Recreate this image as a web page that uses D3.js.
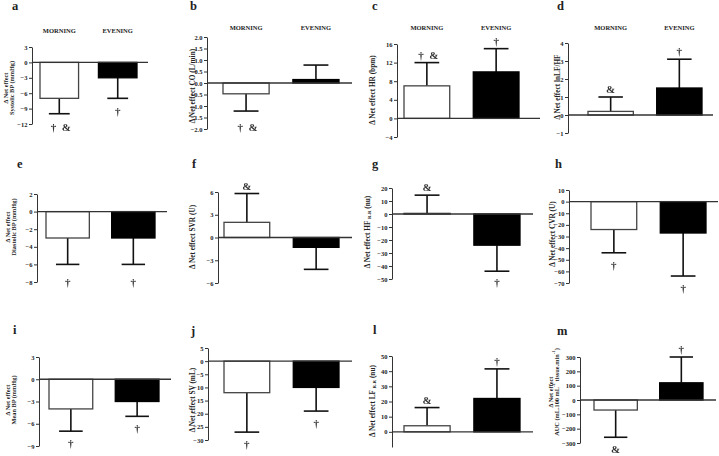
<!DOCTYPE html>
<html><head><meta charset="utf-8">
<script src="https://cdn.jsdelivr.net/npm/d3@7"></script>
<style>
html,body{margin:0;padding:0;background:#fff;}
svg{display:block;}
text{font-family:"Liberation Serif","Times New Roman",serif;font-weight:bold;fill:#222;}
</style></head><body>
<script>
// ---------- DATA ----------
const panelLetters = ["a","b","c","d","e","f","g","h","i","j","l","m"];
const groupNames = ["MORNING","EVENING"];
const morningMean = [-7, -0.47, 7, 0.2, -3, 2, 0.5, -24, -4, -12, 4, -70];
const morningSD   = [3, 0.75, 5, 0.8, 3, 3.8, 14, 20, 3, 15, 12, 190];
const eveningMean = [-3, 0.15, 10, 1.5, -3, -1.3, -24, -27, -3, -10, 22, 120];
const eveningSD   = [4, 0.63, 5, 1.6, 3, 2.9, 20, 37, 2, 9, 19.5, 180];
const yDomains = [[-12,3],[-2,2],[-4,16],[-1,4],[-8,2],[-6,6],[-50,20],[-70,10],[-9,3],[-30,5],[-10,50],[-300,300]];
const yTicks = [
  [3,0,-3,-6,-9,-12],
  [2,1.5,1,0.5,0,-0.5,-1,-1.5,-2],
  [16,12,8,4,0,-4],
  [4,3,2,1,0,-1],
  [2,0,-2,-4,-6,-8],
  [6,3,0,-3,-6],
  [20,10,0,-10,-20,-30,-40,-50],
  [10,0,-10,-20,-30,-40,-50,-60,-70],
  [3,0,-3,-6,-9],
  [5,0,-5,-10,-15,-20,-25,-30],
  [50,40,30,20,10,0],
  [300,200,100,0,-100,-200,-300]
];
const tickFormats = ["d",".1f","d","d","d","d","d","d","d","d","d","d"];
const yLabels = [
  [["Δ Net effect"],["Systolic BP (mmHg)"]],
  [["Δ Net effect CO (L/min)"]],
  [["Δ Net effect HR (bpm)"]],
  [["Δ Net effect lnLF/HF"]],
  [["Δ Net effect"],["Diastolic BP (mmHg)"]],
  [["Δ Net effect SVR (U)"]],
  [["Δ Net effect HF ",["R-R","sub"]," (nu)"]],
  [["Δ Net effect CVR (U)"]],
  [["Δ Net effect"],["Mean BP (mmHg)"]],
  [["Δ Net effect SV (mL)"]],
  [["Δ Net effect LF ",["R-R","sub"]," (nu)"]],
  [["Δ Net effect"],["AUC (mL.100 mL",["-1","sup"]," tissue.min",["-1","sup"],")"]]
];
const morningMarks = ["† &","† &","† &","&","†","&","&","†","†","†","&","&"];
const eveningMarks = ["†","","†","†","†","","†","†","†","†","†","†"];
const showHeader = [true,true,true,true,false,false,false,false,false,false,false,false];

// ---------- LAYOUT ----------
const layout = [
  {ax:32, top:47, bot:124, end:148, bars:[40,137], lx:[5,11], ly:88, let:[12,10], gapB:13},
  {ax:207,top:37, bot:129, end:352, bars:[223,339], lx:[192], ly:86, let:[190,10], gapB:16},
  {ax:397,top:44, bot:137, end:540, bars:[404,519], lx:[372], ly:90, let:[372,10], gapB:12},
  {ax:568,top:43, bot:133, end:713, bars:[588,702], lx:[557], ly:87, let:[557,10], gapB:12},
  {ax:37, top:194,bot:282, end:167, bars:[46,155], lx:[7,13], ly:227, let:[17,168], gapB:18},
  {ax:218,top:192,bot:283, end:352, bars:[224,339], lx:[192], ly:237, let:[192,168], gapB:12},
  {ax:392,top:188,bot:279, end:533, bars:[404,520], lx:[367], ly:232, let:[372,168], gapB:11},
  {ax:569,top:190,bot:283, end:718, bars:[591,706], lx:[552], ly:234, let:[555,168], gapB:12},
  {ax:39, top:357,bot:446, end:171, bars:[49,159], lx:[7,13], ly:400, let:[13,334], gapB:12},
  {ax:208,top:348,bot:440, end:352, bars:[224,339], lx:[192], ly:400, let:[191,335], gapB:12},
  {ax:392,top:356,bot:447, end:533, bars:[404,520], lx:[372], ly:401, let:[373,334], gapB:12},
  {ax:580,top:357,bot:443, end:716, bars:[594,703], lx:[550,556], ly:392, let:[557,335], gapB:12}
];

const W = 719, H = 456;
const svg = d3.select("body").append("svg").attr("width", W).attr("height", H);
const defs = svg.append("defs");
const flt = defs.append("filter").attr("id","gray").attr("x","-20%").attr("y","-20%").attr("width","140%").attr("height","140%");
flt.append("feOffset").attr("dx",0).attr("dy",0);

panelLetters.forEach((letter, i) => {
  const L = layout[i];
  const g = svg.append("g");
  const y = d3.scaleLinear().domain(yDomains[i]).range([L.bot, L.top]);
  const x = d3.scaleBand().domain(groupNames).range(L.bars).paddingInner(0.34).paddingOuter(0);
  const bw = x.bandwidth();

  g.append("text").attr("x", L.let[0]).attr("y", L.let[1])
    .style("font-size","12.5px").text(letter);

  if (showHeader[i]) {
    groupNames.forEach(nm => {
      g.append("text").attr("x", x(nm) + bw/2).attr("y", i===0 ? 33 : 30)
        .attr("text-anchor","middle").style("font-size","6.5px").text(nm);
    });
  }

  const fmt = d3.format(tickFormats[i]);
  const axis = d3.axisLeft(y).tickValues(yTicks[i]).tickSize(3).tickSizeOuter(0)
    .tickPadding(1.5).tickFormat(d => fmt(d));
  const ag = g.append("g").attr("transform", `translate(${L.ax},0)`).call(axis);
  ag.select(".domain").attr("stroke","#333").attr("stroke-width",1);
  ag.selectAll(".tick line").attr("stroke","#333").attr("stroke-width",1);
  ag.selectAll(".tick text").attr("font-family",null).style("font-size","6.5px").style("fill","#222");

  const data = [
    {nm:groupNames[0], m:morningMean[i], sd:morningSD[i], mark:morningMarks[i], fill:"#fff", stroke:"#444"},
    {nm:groupNames[1], m:eveningMean[i], sd:eveningSD[i], mark:eveningMarks[i], fill:"#000", stroke:"#000"}
  ];
  data.forEach(d => {
    const y0 = y(0), y1 = y(d.m);
    const sign = d.m >= 0 ? 1 : -1;
    const yE = y(d.m + sign*d.sd);
    const cx = x(d.nm) + bw/2;
    g.append("line").attr("x1",cx).attr("x2",cx).attr("y1",y1).attr("y2",yE)
      .attr("stroke","#111").attr("stroke-width",1.6);
    g.append("line").attr("x1",cx - bw*0.27).attr("x2",cx + bw*0.27).attr("y1",yE).attr("y2",yE)
      .attr("stroke","#111").attr("stroke-width",1.6);
    g.append("rect").attr("x", x(d.nm)).attr("y", Math.min(y0,y1))
      .attr("width", bw).attr("height", Math.max(Math.abs(y1-y0), 0.8))
      .attr("fill", d.fill).attr("stroke", d.stroke).attr("stroke-width", 1.3);
    if (d.mark) {
      const my = sign > 0 ? yE - 8 : yE + L.gapB;
      g.append("text").attr("filter","url(#gray)").attr("x", cx + (d.mark.length > 1 ? 1.5 : 0)).attr("y", my)
        .attr("text-anchor","middle").attr("dominant-baseline","central")
        .style("font-size","11px").style("fill","#333").text(d.mark.replace(" ", "\u2002"));
    }
  });

  g.append("line").attr("x1", L.ax).attr("x2", L.end).attr("y1", y(0)).attr("y2", y(0))
    .attr("stroke","#333").attr("stroke-width",1.3);

  const lines = yLabels[i];
  lines.forEach((parts, k) => {
    const t = g.append("text")
      .attr("transform", `translate(${L.lx[k]},${L.ly}) rotate(-90)`)
      .attr("text-anchor","middle").attr("dominant-baseline","central")
      .style("font-size", lines.length > 1 ? "6.3px" : "7.3px");
    parts.forEach(p => {
      if (typeof p === "string") t.append("tspan").text(p);
      else t.append("tspan").attr("baseline-shift", p[1] === "sub" ? "sub" : "super")
        .style("font-size","4.8px").text(p[0]);
    });
  });
});
</script>
</body></html>
